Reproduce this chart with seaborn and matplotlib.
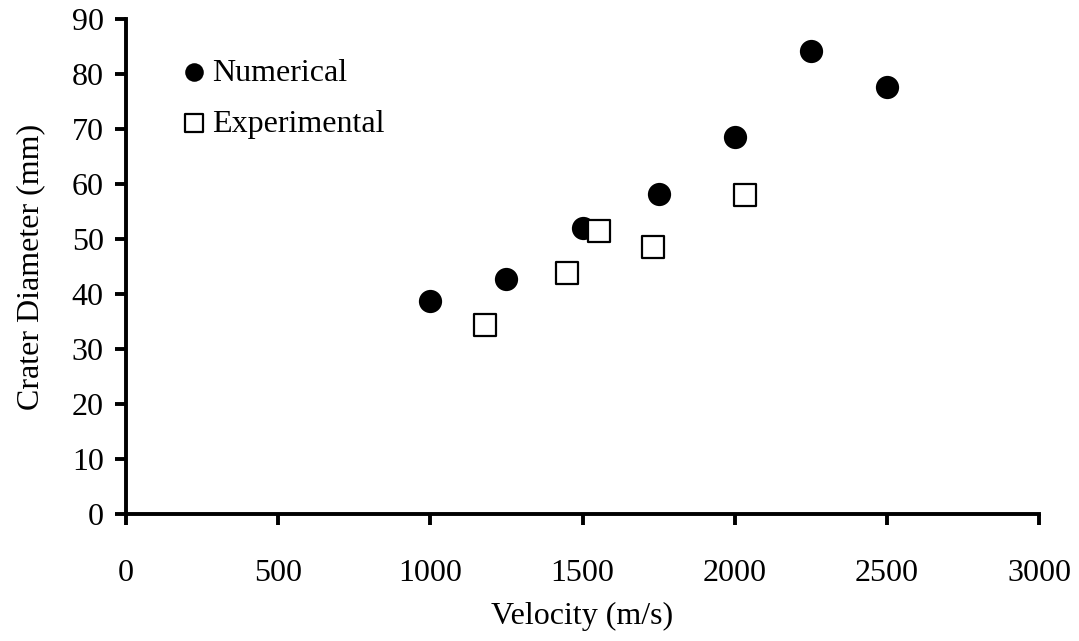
import matplotlib
matplotlib.use("Agg")
import matplotlib.pyplot as plt
import seaborn as sns

# Numerical results
num_velocity = [1000, 1250, 1500, 1750, 2000, 2250, 2500]
num_diameter = [38.8, 42.7, 52.1, 58.2, 68.6, 84.2, 77.6]

# Experimental results
exp_velocity = [1180, 1450, 1555, 1730, 2035]
exp_diameter = [34.3, 43.8, 51.5, 48.5, 58.0]

x_ticks = [0, 500, 1000, 1500, 2000, 2500, 3000]
y_ticks = [0, 10, 20, 30, 40, 50, 60, 70, 80, 90]

sns.set_style("ticks")
plt.rcParams["font.family"] = ["Liberation Serif", "DejaVu Serif"]
plt.rcParams["text.color"] = "black"
plt.rcParams["axes.labelcolor"] = "black"
plt.rcParams["xtick.color"] = "black"
plt.rcParams["ytick.color"] = "black"

FS = 23

fig = plt.figure(figsize=(10.79, 6.41), dpi=100)
ax = fig.add_axes([0.1168, 0.198, 0.8462, 0.772])

sns.scatterplot(x=num_velocity, y=num_diameter, ax=ax, marker="o", s=280,
                color="black", edgecolor="black", linewidth=0, label="Numerical")
sns.scatterplot(x=exp_velocity, y=exp_diameter, ax=ax, marker="s", s=240,
                facecolor="white", edgecolor="black", linewidth=1.6, label="Experimental")

ax.set_xlim(0, 3000)
ax.set_ylim(0, 90)
ax.set_xticks(x_ticks)
ax.set_yticks(y_ticks)
ax.tick_params(axis="both", direction="out", length=8, width=2.8, labelsize=FS)
ax.tick_params(axis="x", pad=24)
ax.tick_params(axis="y", pad=8)
sns.despine(ax=ax)
for side in ["left", "bottom"]:
    ax.spines[side].set_linewidth(2.8)
    ax.spines[side].set_color("black")

ax.set_xlabel("Velocity (m/s)", fontsize=FS, labelpad=10)
ax.set_ylabel("Crater Diameter (mm)", fontsize=FS, labelpad=19)

ax.legend(loc="upper left", bbox_to_anchor=(0.026, 0.947), frameon=False, fontsize=FS,
          markerscale=0.8, handletextpad=-0.45, labelspacing=0.68, borderaxespad=0)

fig.savefig("out.png", dpi=100)
plt.close(fig)
